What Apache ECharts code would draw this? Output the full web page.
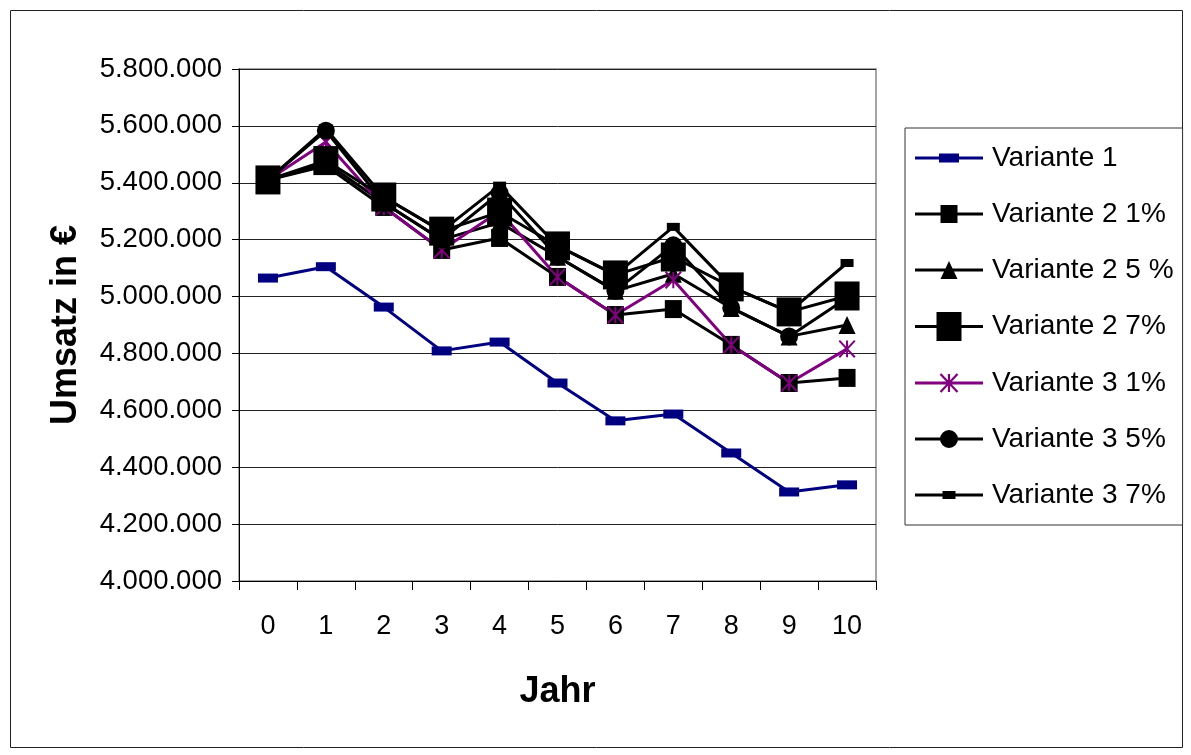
<!DOCTYPE html>
<html>
<head>
<meta charset="utf-8">
<script src="https://cdn.jsdelivr.net/npm/echarts@6/dist/echarts.min.js"></script>
<style>
html, body { margin: 0; padding: 0; background: #fff; }
#chart { width: 1191px; height: 755px; }
</style>
</head>
<body>
<div id="chart"></div>
<script>
// Jahre und Umsatzwerte
var years = ['0', '1', '2', '3', '4', '5', '6', '7', '8', '9', '10'];
var variante1 = [5065000, 5105000, 4963000, 4809000, 4840000, 4696000, 4563000, 4587000, 4450000, 4313000, 4338000];
var variante2_1 = [5410000, 5460000, 5315000, 5164000, 5206000, 5069000, 4935000, 4956000, 4830000, 4696000, 4714000];
var variante2_5 = [5410000, 5470000, 5330000, 5200000, 5260000, 5140000, 5020000, 5080000, 4960000, 4860000, 4900000];
var variante2_7 = [5410000, 5478000, 5350000, 5230000, 5297000, 5178000, 5076000, 5139000, 5034000, 4946000, 5002000];
var variante3_1 = [5410000, 5543000, 5315000, 5164000, 5300000, 5069000, 4935000, 5058000, 4830000, 4696000, 4816000];
var variante3_5 = [5410000, 5583000, 5330000, 5200000, 5364000, 5140000, 5020000, 5180000, 4960000, 4860000, 4995000];
var variante3_7 = [5410000, 5590000, 5350000, 5230000, 5390000, 5178000, 5076000, 5245000, 5034000, 4946000, 5118000];
var seriesNames = ['Variante 1', 'Variante 2 1%', 'Variante 2 5 %', 'Variante 2 7%', 'Variante 3 1%', 'Variante 3 5%', 'Variante 3 7%'];

var FONT = "'Liberation Sans', Arial, sans-serif";

// Hilfsfunktionen fuer Symbol-Pfade
function polyPath(pts) {
    var a = 0;
    for (var i = 0; i < pts.length; i++) {
        var p = pts[i], q = pts[(i + 1) % pts.length];
        a += p[0] * q[1] - q[0] * p[1];
    }
    if (a < 0) pts = pts.slice().reverse();
    return 'M' + pts.map(function (p) { return p[0].toFixed(2) + ' ' + p[1].toFixed(2); }).join(' L') + ' Z ';
}
function bar(x1, y1, x2, y2, t) {
    var dx = x2 - x1, dy = y2 - y1, len = Math.sqrt(dx * dx + dy * dy);
    var nx = -dy / len * t / 2, ny = dx / len * t / 2;
    return polyPath([[x1 + nx, y1 + ny], [x2 + nx, y2 + ny], [x2 - nx, y2 - ny], [x1 - nx, y1 - ny]]);
}
function rectP(cx, cy, w, h) {
    return polyPath([[cx - w / 2, cy - h / 2], [cx + w / 2, cy - h / 2], [cx + w / 2, cy + h / 2], [cx - w / 2, cy + h / 2]]);
}
function triP(cx, cy, w, h) {
    return polyPath([[cx, cy - h / 2], [cx + w / 2, cy + h / 2], [cx - w / 2, cy + h / 2]]);
}
function circP(cx, cy, r) {
    return 'M' + cx + ' ' + (cy - r) + ' A' + r + ' ' + r + ' 0 1 1 ' + cx + ' ' + (cy + r) +
        ' A' + r + ' ' + r + ' 0 1 1 ' + cx + ' ' + (cy - r) + ' Z ';
}
function asteriskP(cx, cy, w, h, t) {
    return bar(cx, cy - h / 2, cx, cy + h / 2, t) +
        bar(cx - w / 2, cy - h / 2, cx + w / 2, cy + h / 2, t) +
        bar(cx + w / 2, cy - h / 2, cx - w / 2, cy + h / 2, t);
}
var LW = 68;
function legendIcon(marker) {
    return 'path://' + bar(0, 0, LW, 0, 3) + marker;
}

var asteriskSymbol = 'path://' + asteriskP(0, 0, 17, 18, 2.2);

// Zahlenformat 5.800.000
function fmt(v) {
    return String(Math.round(v)).replace(/\B(?=(\d{3})+(?!\d))/g, '.');
}

function lineSeries(name, data, color, symbol, size, z) {
    return {
        name: name,
        type: 'line',
        data: data,
        symbol: symbol,
        symbolSize: size,
        showAllSymbol: true,
        z: z || 2,
        lineStyle: { color: color, width: 3 },
        itemStyle: { color: color, borderWidth: 0 },
        emphasis: { disabled: true }
    };
}

var chart = echarts.init(document.getElementById('chart'));
var option = {
    animation: false,
    backgroundColor: '#fff',
    textStyle: { fontFamily: FONT, color: '#000' },
    graphic: [{
        type: 'rect',
        shape: { x: 10.5, y: 10.5, width: 1172, height: 737 },
        style: { fill: 'none', stroke: '#222', lineWidth: 1 },
        silent: true
    }],
    grid: {
        left: 239,
        right: 315,
        top: 69,
        bottom: 174,
        show: true,
        borderColor: '#888',
        borderWidth: 1.5
    },
    legend: {
        orient: 'vertical',
        left: 905,
        top: 128,
        padding: [16, 9, 16, 10],
        itemWidth: LW,
        itemHeight: 30,
        itemGap: 28,
        borderColor: '#333',
        borderWidth: 1,
        backgroundColor: '#fff',
        textStyle: { fontSize: 28, color: '#000', fontFamily: FONT, padding: [0, 0, 0, 4] },
        data: [
            { name: seriesNames[0], icon: legendIcon(rectP(LW / 2, 0, 20, 9)) },
            { name: seriesNames[1], icon: legendIcon(rectP(LW / 2, 0, 17, 18)) },
            { name: seriesNames[2], icon: legendIcon(triP(LW / 2, 0, 17, 18)) },
            { name: seriesNames[3], icon: legendIcon(rectP(LW / 2, 0, 25, 29)) },
            { name: seriesNames[4], icon: legendIcon(asteriskP(LW / 2, 0, 17, 18, 2.2)) },
            { name: seriesNames[5], icon: legendIcon(circP(LW / 2, 0, 9)) },
            { name: seriesNames[6], icon: legendIcon(rectP(LW / 2, 0, 13, 8)) }
        ]
    },
    xAxis: {
        type: 'category',
        data: years,
        boundaryGap: true,
        name: 'Jahr',
        nameLocation: 'middle',
        nameGap: 93,
        nameTextStyle: { fontSize: 36, fontWeight: 'bold', color: '#000', fontFamily: FONT },
        axisLine: { lineStyle: { color: '#000', width: 1 } },
        axisTick: { show: true, length: 9, lineStyle: { color: '#000' } },
        axisLabel: { fontSize: 27, color: '#000', margin: 32, fontFamily: FONT },
        splitLine: { show: false }
    },
    yAxis: {
        type: 'value',
        min: 4000000,
        max: 5800000,
        interval: 200000,
        name: 'Umsatz in €',
        nameLocation: 'middle',
        nameRotate: 90,
        nameGap: 155,
        nameTextStyle: { fontSize: 36, fontWeight: 'bold', color: '#000', fontFamily: FONT },
        axisLine: { show: true, lineStyle: { color: '#000', width: 1 } },
        axisTick: { show: true, length: 7, lineStyle: { color: '#000' } },
        axisLabel: { fontSize: 27.5, color: '#000', margin: 17, fontFamily: FONT, formatter: fmt },
        splitLine: { show: true, lineStyle: { color: '#222', width: 1 } }
    },
    series: [
        lineSeries(seriesNames[0], variante1, '#000080', 'rect', [20, 9]),
        lineSeries(seriesNames[1], variante2_1, '#000', 'rect', [17, 18]),
        lineSeries(seriesNames[2], variante2_5, '#000', 'triangle', [17, 18]),
        lineSeries(seriesNames[3], variante2_7, '#000', 'rect', [25, 29], 3),
        lineSeries(seriesNames[4], variante3_1, '#800080', asteriskSymbol, [17, 18]),
        lineSeries(seriesNames[5], variante3_5, '#000', 'circle', 18),
        lineSeries(seriesNames[6], variante3_7, '#000', 'rect', [13, 8])
    ]
};
chart.setOption(option);
</script>
</body>
</html>
